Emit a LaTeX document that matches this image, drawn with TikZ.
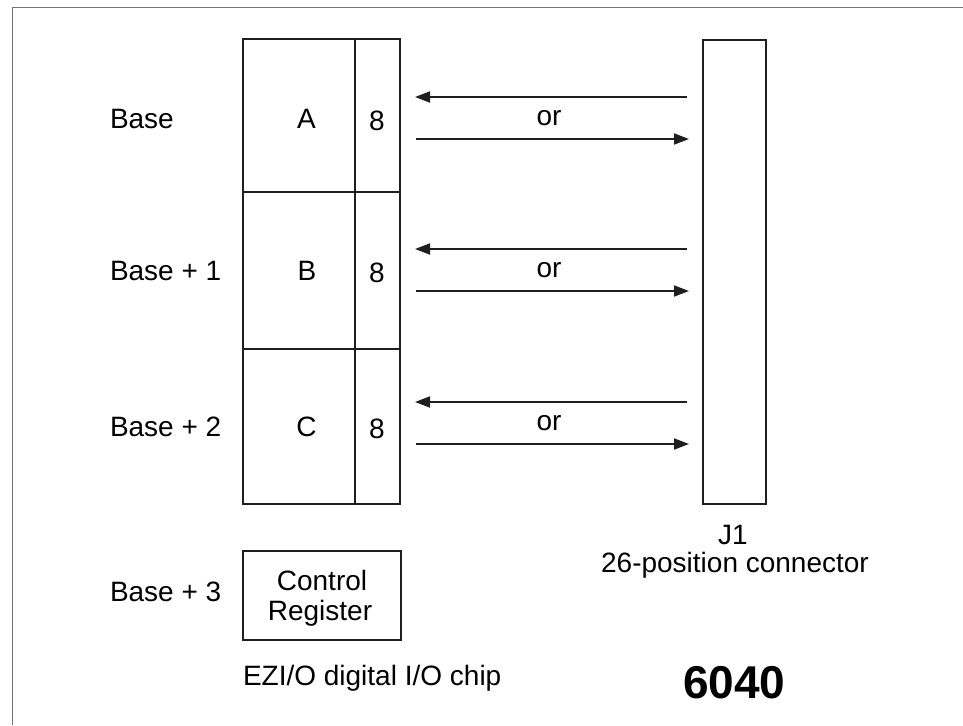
\documentclass[tikz,border=0pt]{standalone}
\usepackage{fontspec}
\setmainfont{Liberation Sans}
\usetikzlibrary{arrows.meta}
\begin{document}
\begin{tikzpicture}[x=1pt,y=-1pt]
\useasboundingbox (0,0) rectangle (963,725);
\tikzset{
  box/.style={draw=black!88, line width=1.8pt, inner sep=0pt, outer sep=0pt},
  lbl/.style={inner sep=0pt, outer sep=0pt, font=\fontsize{28}{30}\selectfont},
  arr/.style={draw=black!88, line width=1.8pt, -{Triangle[length=15pt,width=11pt]}},
  frame/.style={draw=black!55, line width=1.5pt}
}
% frame
\coordinate (fb) at (12.5,725);
\coordinate (fc) at (12.5,7.3);
\coordinate (fr) at (963,7.3);
\draw[frame] (fb) -- (fc) -- (fr);

% chip cells
\node[box, anchor=north west, minimum width=112, minimum height=153] (cA) at (243,39) {};
\node[box, anchor=north west, minimum width=45, minimum height=153] (pA) at (355,39) {};
\node[box, anchor=north west, minimum width=112, minimum height=157] (cB) at (243,192) {};
\node[box, anchor=north west, minimum width=45, minimum height=157] (pB) at (355,192) {};
\node[box, anchor=north west, minimum width=112, minimum height=155] (cC) at (243,349) {};
\node[box, anchor=north west, minimum width=45, minimum height=155] (pC) at (355,349) {};

% control register
\node[box, anchor=north west, minimum width=158, minimum height=89] (ctl) at (243,551) {};
\node[lbl, anchor=base] (ctl1) at (322,590) {Control};
\node[lbl, anchor=base] (ctl2) at (320,620) {Register};

% connector
\node[box, anchor=north west, minimum width=63, minimum height=464] (J) at (703,40) {};
\node[lbl, anchor=base] (jname) at (733,544) {J1};
\node[lbl, anchor=base] (jdesc) at (735,572) {26-position connector};

% address labels
\node[lbl, anchor=base west] (b0) at (110,128) {Base};
\node[lbl, anchor=base west] (b1) at (110,280) {Base + 1};
\node[lbl, anchor=base west] (b2) at (110,436) {Base + 2};
\node[lbl, anchor=base west] (b3) at (110,601) {Base + 3};

% port letters
\node[lbl, anchor=base] (tA) at (306.5,128) {A};
\node[lbl, anchor=base] (tB) at (307,280) {B};
\node[lbl, anchor=base] (tC) at (306.5,436) {C};
\node[lbl, anchor=base] (n1) at (377,130) {8};
\node[lbl, anchor=base] (n2) at (377,282) {8};
\node[lbl, anchor=base] (n3) at (377,438) {8};

% arrows
\foreach \i/\ya/\yb/\yo in {1/97/139/125, 2/249/291/277, 3/402/444/430}{
  \coordinate (la\i) at (687,\ya);
  \coordinate (lt\i) at (415,\ya);
  \coordinate (ra\i) at (416,\yb);
  \coordinate (rt\i) at (689,\yb);
  \draw[arr] (la\i) -- (lt\i);
  \draw[arr] (ra\i) -- (rt\i);
  \node[lbl, anchor=base] (or\i) at (549,\yo) {or};
}

% bottom captions
\node[lbl, anchor=base west] (chipname) at (243,685) {EZI/O digital I/O chip};
\node[inner sep=0pt, anchor=base west, font=\fontsize{46}{48}\selectfont\bfseries] (model) at (683,698) {6040};
\end{tikzpicture}
\end{document}
